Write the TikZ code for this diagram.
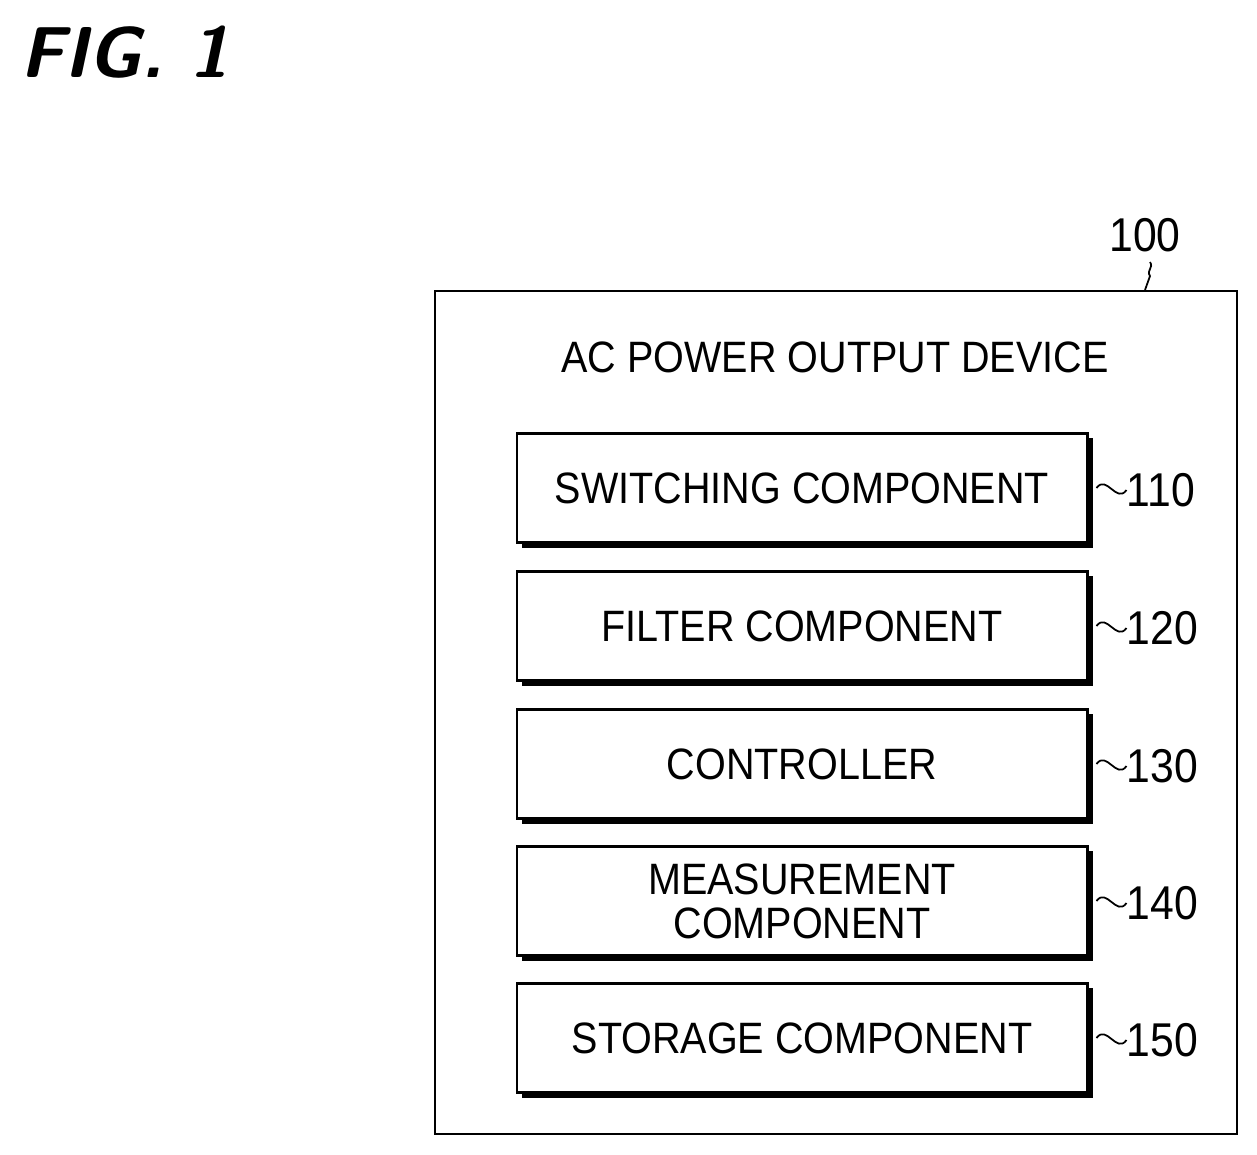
\documentclass[tikz,border=0pt]{standalone}
\usepackage{fontspec}
\setmainfont{Liberation Sans}[FakeStretch=0.9]
\usetikzlibrary{positioning, calc}

\begin{document}
\begin{tikzpicture}[
        x=0.02cm, y=-0.02cm,
        part/.style={rectangle, draw, line width=1.2pt, fill=white, minimum width=11.42cm,
            minimum height=2.18cm, align=center, font=\fontsize{25}{22}\selectfont},
        ref/.style={font=\fontsize{27}{28}\selectfont, anchor=west, inner sep=0pt}
    ]
    \useasboundingbox (0,0) rectangle (1257,1154);
    \node[anchor=west, inner sep=0pt, font=\fontsize{41}{44}\sffamily\bfseries\itshape] (fig) at (20,52) {FIG. 1};

    % outer device
    \node[rectangle, draw, line width=1.2pt, minimum width=16.04cm, minimum height=16.86cm,
        anchor=north west, inner sep=0pt] (device) at (434,290) {};
    \node[font=\fontsize{25}{28}\selectfont] (title) at (835,357) {AC POWER OUTPUT DEVICE};
    \node[font=\fontsize{27}{28}\selectfont] (num) at (1145,235) {100};
    \draw[line width=1pt] (num.south) ++(5,4) .. controls +(4,6) and +(-4,-6) .. ++(0,14) -- (device.north -| 1145,0);

    % components
    \foreach \y/\txt/\n in {488/SWITCHING COMPONENT/110, 626/FILTER COMPONENT/120,
            764/CONTROLLER/130, 901/MEASUREMENT\\[3pt]COMPONENT/140, 1038/STORAGE COMPONENT/150} {
        \fill ($(802,\y)+(-280,-50)$) rectangle ($(802,\y)+(291,60)$);
        \node[part] (c\n) at (802,\y) {\txt};
        \node[ref] (r\n) at ($(c\n.east)+(38,2)$) {\n};
        \draw[line width=1pt] (c\n.east) ++(8,0) .. controls +(10,-14) and +(-10,14) .. (r\n.west);
    }
\end{tikzpicture}
\end{document}
